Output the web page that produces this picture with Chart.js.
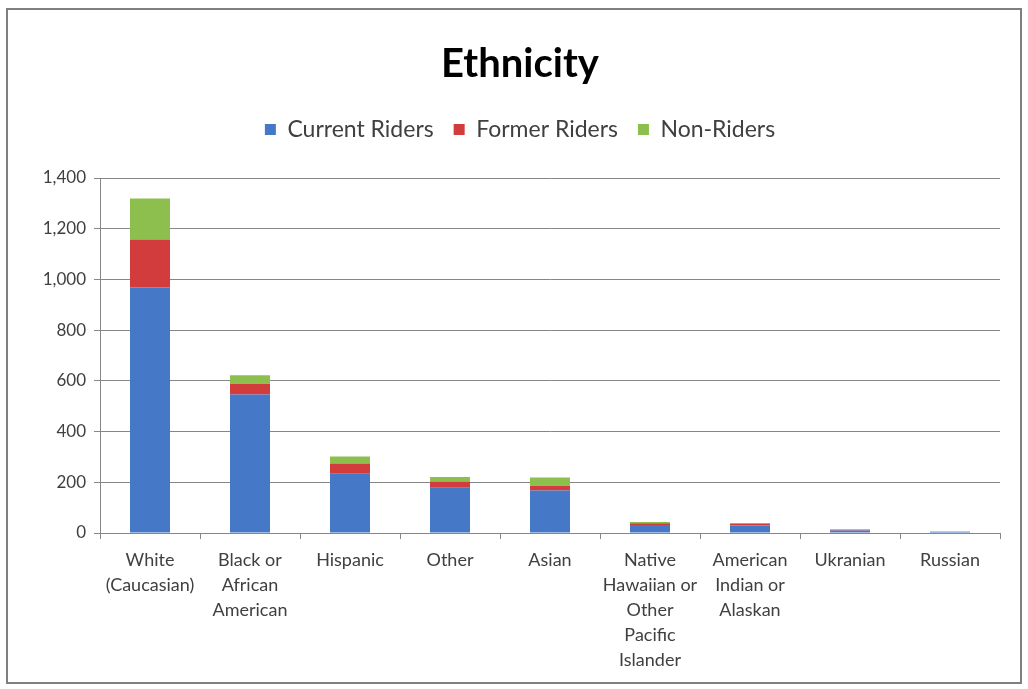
<!DOCTYPE html>
<html>
<head>
<meta charset="utf-8">
<script src="https://cdn.jsdelivr.net/npm/chart.js@4"></script>
<style>
  html, body { margin: 0; padding: 0; background: #fff; }
  #wrap { width: 1028px; height: 689px; }
</style>
</head>
<body>
<div id="wrap"><canvas id="ethnicity" width="1028" height="689"></canvas></div>
<script>
const categories = [
  ["White", "(Caucasian)"],
  ["Black or", "African", "American"],
  "Hispanic",
  "Other",
  "Asian",
  ["Native", "Hawaiian or", "Other", "Pacific", "Islander"],
  ["American", "Indian or", "Alaskan"],
  "Ukranian",
  "Russian",
];
const currentRiders = [968, 546, 234, 178, 168, 32, 30, 10, 4];
const formerRiders = [189, 43, 40, 25, 18, 6, 6, 3, 1];
const nonRiders = [162, 33, 28, 18, 33, 5, 3, 2, 1];
const yTicks = [0, 200, 400, 600, 800, 1000, 1200, 1400];

const ctx = document.getElementById("ethnicity");

const frame = {
  id: "frame",
  beforeDraw(chart) {
    const c = chart.ctx;
    c.save();
    c.fillStyle = "#fff";
    c.fillRect(0, 0, chart.width, chart.height);
    c.strokeStyle = "#7f7f7f";
    c.lineWidth = 2;
    c.strokeRect(7, 9, 1014, 674);
    c.restore();
  },
  afterInit(chart) {
    const lg = chart.legend;
    if (lg && !lg._patched) {
      const fit = lg.fit;
      lg.fit = function () {
        fit.call(this);
        this.height += 27;
      };
      lg._patched = true;
    }
  },
};

const config = {
  type: "bar",
  data: {
    labels: categories,
    datasets: [
      { label: "Current Riders", data: currentRiders, backgroundColor: "#4579c8" },
      { label: "Former Riders", data: formerRiders, backgroundColor: "#d23c3c" },
      { label: "Non-Riders", data: nonRiders, backgroundColor: "#8dbf4e" },
    ],
  },
  options: {
    responsive: false,
    animation: false,
    layout: { padding: { top: 40, right: 28, bottom: 6, left: 40 } },
    datasets: {
      bar: { barPercentage: 0.4, categoryPercentage: 1.0 },
    },
    scales: {
      x: {
        stacked: true,
        offset: true,
        border: { color: "#868686", width: 1 },
        grid: { offset: true, drawOnChartArea: false, drawTicks: true, tickLength: 6, color: "#868686" },
        ticks: {
          maxRotation: 0,
          autoSkip: false,
          color: "#404040",
          padding: 9,
          font: { family: "Lato", size: 18, lineHeight: 1.38 },
        },
        afterFit(scale) { scale.height = 150; },
      },
      y: {
        stacked: true,
        min: 0,
        max: 1400,
        border: { color: "#868686", width: 1 },
        grid: { color: "#868686", tickLength: 6 },
        afterBuildTicks(scale) { scale.ticks = yTicks.map(v => ({ value: v })); },
        ticks: {
          color: "#404040",
          padding: 8,
          font: { family: "Lato", size: 17 },
          callback: v => v.toLocaleString("en-US"),
        },
        afterFit(scale) { scale.width = 60; },
      },
    },
    plugins: {
      title: {
        display: true,
        text: "Ethnicity",
        color: "#000",
        padding: { top: 0, bottom: 10 },
        font: { family: "Lato", size: 40, weight: "bold" },
      },
      legend: {
        display: true,
        labels: {
          boxWidth: 11,
          boxHeight: 11,
          padding: 20,
          color: "#404040",
          font: { family: "Lato", size: 23 },
        },
      },
      tooltip: { enabled: false },
    },
  },
  plugins: [frame],
};

const chart = new Chart(ctx, config);
</script>
</body>
</html>
